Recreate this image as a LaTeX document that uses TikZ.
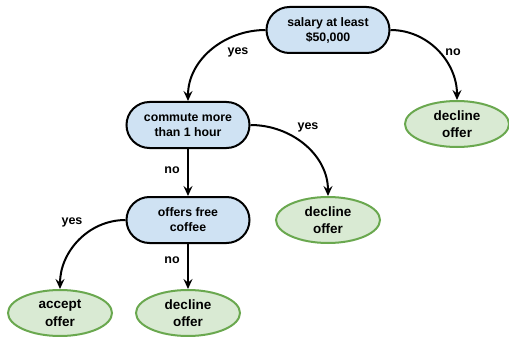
\documentclass[tikz,border=0pt]{standalone}
\usepackage{fontspec}
\setmainfont{Liberation Sans}
\usetikzlibrary{shapes.misc,shapes.geometric,arrows.meta}
\definecolor{qblue}{HTML}{CFE2F3}
\definecolor{lgreen}{HTML}{D9EAD3}
\definecolor{dgreen}{HTML}{6AA84F}
\begin{document}
\begin{tikzpicture}[x=1pt,y=-1pt,
  question/.style={rounded rectangle, draw=black, line width=2pt, fill=qblue,
    minimum width=123pt, minimum height=46pt, align=center, inner sep=0pt,
    font=\fontsize{12.3}{15}\selectfont\bfseries},
  leaf/.style={ellipse, draw=dgreen, line width=2pt, fill=lgreen,
    minimum width=104pt, minimum height=46pt, align=center, inner sep=0pt,
    font=\fontsize{13.5}{17.5}\selectfont\bfseries},
  edge/.style={line width=2pt, -{Stealth[length=10pt,width=9pt,inset=3.5pt]}},
  lbl/.style={font=\fontsize{12.5}{14}\selectfont\bfseries, inner sep=1pt}]
\useasboundingbox (0,0) rectangle (509,337);
\node[question] (salary) at (328,30) {salary at least\\\$50,000};
\node[question] (commute) at (188,125) {commute more\\than 1 hour};
\node[question] (coffee) at (188,220) {offers free\\coffee};
\node[leaf] (dec1) at (457,124) {decline\\offer};
\node[leaf] (dec2) at (328,220) {decline\\offer};
\node[leaf] (acc) at (60,313) {accept\\offer};
\node[leaf] (dec3) at (188,313) {decline\\offer};
\draw[edge] (salary.west) to[out=180,in=90] (commute.north);
\draw[edge] (salary.east) to[out=0,in=90] (dec1.north);
\draw[edge] (commute.east) to[out=0,in=90] (dec2.north);
\draw[edge] (commute.south) -- (coffee.north);
\draw[edge] (coffee.west) to[out=180,in=90] (acc.north);
\draw[edge] (coffee.south) -- (dec3.north);
\node[lbl] (l1) at (238,52) {yes};
\node[lbl] (l2) at (453,52) {no};
\node[lbl] (l3) at (308,127) {yes};
\node[lbl] (l4) at (172,170) {no};
\node[lbl] (l5) at (72,222) {yes};
\node[lbl] (l6) at (172,260) {no};
\end{tikzpicture}
\end{document}
